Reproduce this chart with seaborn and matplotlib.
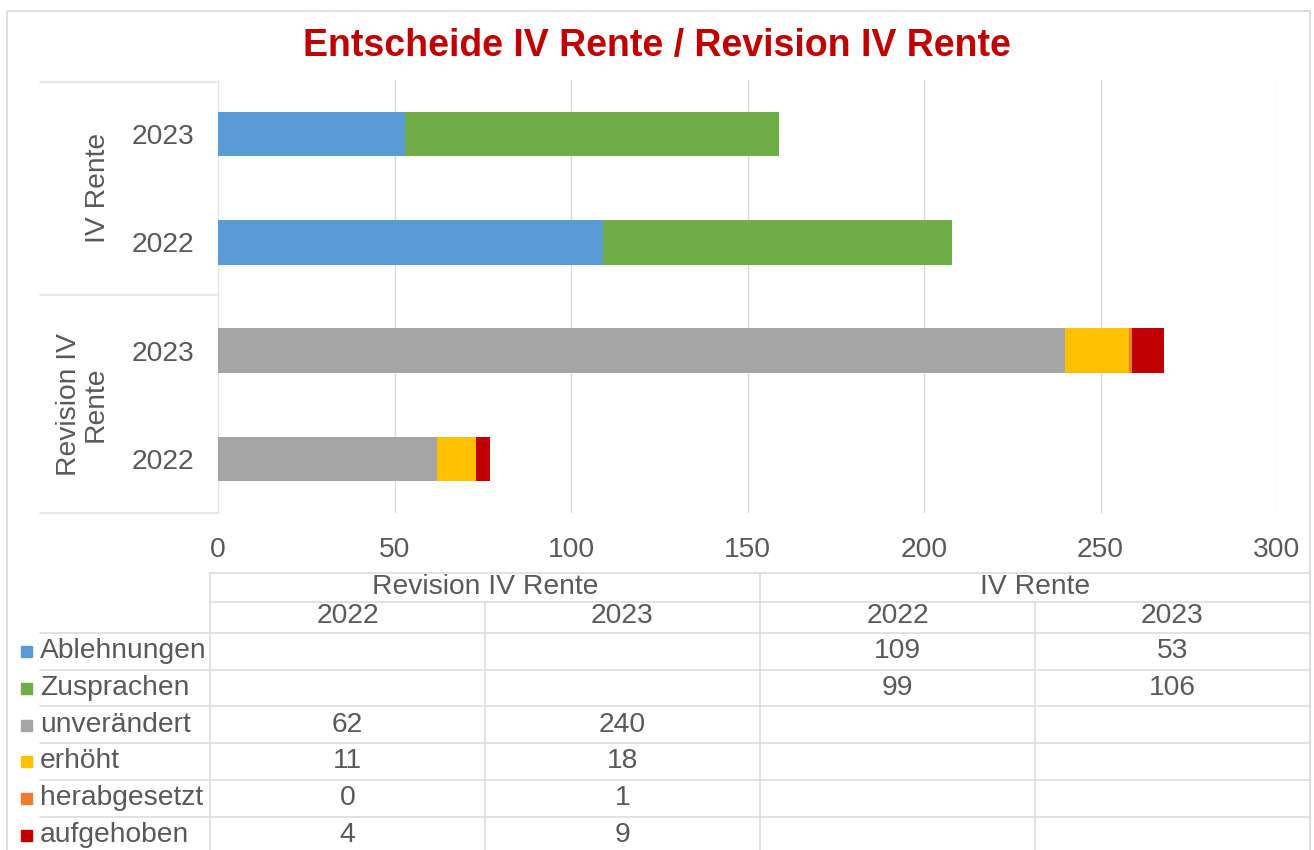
import numpy as np
import pandas as pd
import seaborn as sns
import matplotlib.pyplot as plt
from matplotlib.patches import Rectangle
from matplotlib.transforms import blended_transform_factory

# data (columns in table order)
groups = ['Revision IV Rente', 'Revision IV Rente', 'IV Rente', 'IV Rente']
years = ['2022', '2023', '2022', '2023']
series = ['Ablehnungen', 'Zusprachen', 'unverändert', 'erhöht', 'herabgesetzt', 'aufgehoben']
ablehnungen = [np.nan, np.nan, 109, 53]
zusprachen = [np.nan, np.nan, 99, 106]
unveraendert = [62, 240, np.nan, np.nan]
erhoeht = [11, 18, np.nan, np.nan]
herabgesetzt = [0, 1, np.nan, np.nan]
aufgehoben = [4, 9, np.nan, np.nan]
colors = ['#5B9BD5', '#70AD47', '#A5A5A5', '#FFC000', '#ED7D31', '#C00000']

labels = [f'{g} {y}' for g, y in zip(groups, years)]
df = pd.DataFrame({'label': labels, 'Ablehnungen': ablehnungen, 'Zusprachen': zusprachen,
                   'unverändert': unveraendert, 'erhöht': erhoeht,
                   'herabgesetzt': herabgesetzt, 'aufgehoben': aufgehoben})
cum = df[series].fillna(0).cumsum(axis=1)
order = labels[::-1]  # top to bottom

sns.set_style('white')
plt.rcParams['font.family'] = ['Liberation Sans', 'DejaVu Sans']
txt = '#595959'
fs = 20.3

fig = plt.figure(figsize=(13.14, 8.5), dpi=100)

# background axes in pixel coords for the frame / table
bg = fig.add_axes([0, 0, 1, 1], zorder=0)
bg.set_xlim(0, 1314)
bg.set_ylim(850, 0)
bg.axis('off')
bg.add_patch(Rectangle((7, 11), 1303, 845, fill=False, edgecolor='#D9D9D9', lw=1.2))

ax = fig.add_axes([218 / 1314, 1 - 513 / 850, 1059 / 1314, 433 / 850], zorder=1)
ax.patch.set_alpha(0)

# stacked bars: draw cumulative totals from last series to first
for s, c in reversed(list(zip(series, colors))):
    mask = df[s].notna()
    sub = pd.DataFrame({'label': df.loc[mask, 'label'], 'x': cum.loc[mask, s]})
    sns.barplot(data=sub, x='x', y='label', order=order, color=c, width=0.41,
                errorbar=None, orient='h', saturation=1, linewidth=0, ax=ax, zorder=3)

ax.set_xlim(0, 300)
ax.set_xticks(range(0, 301, 50))
ax.grid(axis='x', color='#D9D9D9', lw=1)
ax.set_axisbelow(True)
ax.set_xlabel('')
ax.set_ylabel('')
ax.set_yticks(range(len(order)))
ax.set_yticklabels([l.split()[-1] for l in order])
ax.tick_params(axis='both', length=0, labelsize=fs, labelcolor=txt)
ax.tick_params(axis='x', pad=17)
ax.tick_params(axis='y', pad=17)
for side in ['top', 'right', 'bottom']:
    ax.spines[side].set_visible(False)
ax.spines['left'].set_color('#E6E6E6')

# group labels on the left
tr = blended_transform_factory(ax.transAxes, ax.transData)
group_names = list(dict.fromkeys(groups))
group_text = {'IV Rente': 'IV Rente', 'Revision IV Rente': 'Revision IV\nRente'}
group_x = {'IV Rente': -0.113, 'Revision IV Rente': -0.128}
for g in group_names:
    pos = [i for i, l in enumerate(order) if l.startswith(g + ' ')]
    ax.text(group_x[g], np.mean(pos), group_text[g], transform=tr, rotation=90,
            ha='center', va='center', fontsize=fs, color=txt, multialignment='center',
            linespacing=1.0)
for yy in [82, 295, 513]:
    bg.plot([40, 218], [yy, yy], color='#E3E3E3', lw=1.2)

fig.text(0.5, 1 - 46 / 850, 'Entscheide IV Rente / Revision IV Rente', ha='center', va='center',
         fontsize=27, fontweight='bold', color='#C00000')

# data table below the chart
col_edges = [210, 485, 760, 1035, 1310]
row_h = 36.7
row_y0 = 633
line_c = '#DDDDDD'
bg.plot([210, 1310], [573, 573], color=line_c, lw=1.2)
bg.plot([210, 1310], [602, 602], color=line_c, lw=1.2)
for k in range(len(series) + 1):
    y = row_y0 + k * row_h
    bg.plot([40, 1310], [y, y], color=line_c, lw=1.2)
for k, x in enumerate(col_edges):
    top = 573 if k % 2 == 0 else 602
    bg.plot([x, x], [top, 850], color=line_c, lw=1.2)

for j, g in enumerate(group_names):
    xc = (col_edges[2 * j] + col_edges[2 * j + 2]) / 2
    bg.text(xc, 587, g, ha='center', va='center', fontsize=fs, color=txt)
for j, y in enumerate(years):
    xc = (col_edges[j] + col_edges[j + 1]) / 2
    bg.text(xc, 616, y, ha='center', va='center', fontsize=fs, color=txt)

for i, (s, c) in enumerate(zip(series, colors)):
    yc = row_y0 + (i + 0.5) * row_h
    bg.add_patch(Rectangle((21, yc - 5), 11, 11, color=c))
    bg.text(40, yc, s, ha='left', va='center', fontsize=fs, color=txt)
    for j in range(len(labels)):
        v = df.loc[j, s]
        if not np.isnan(v):
            xc = (col_edges[j] + col_edges[j + 1]) / 2
            bg.text(xc, yc, f'{int(v)}', ha='center', va='center', fontsize=fs, color=txt)

fig.savefig('out.png', dpi=100)
